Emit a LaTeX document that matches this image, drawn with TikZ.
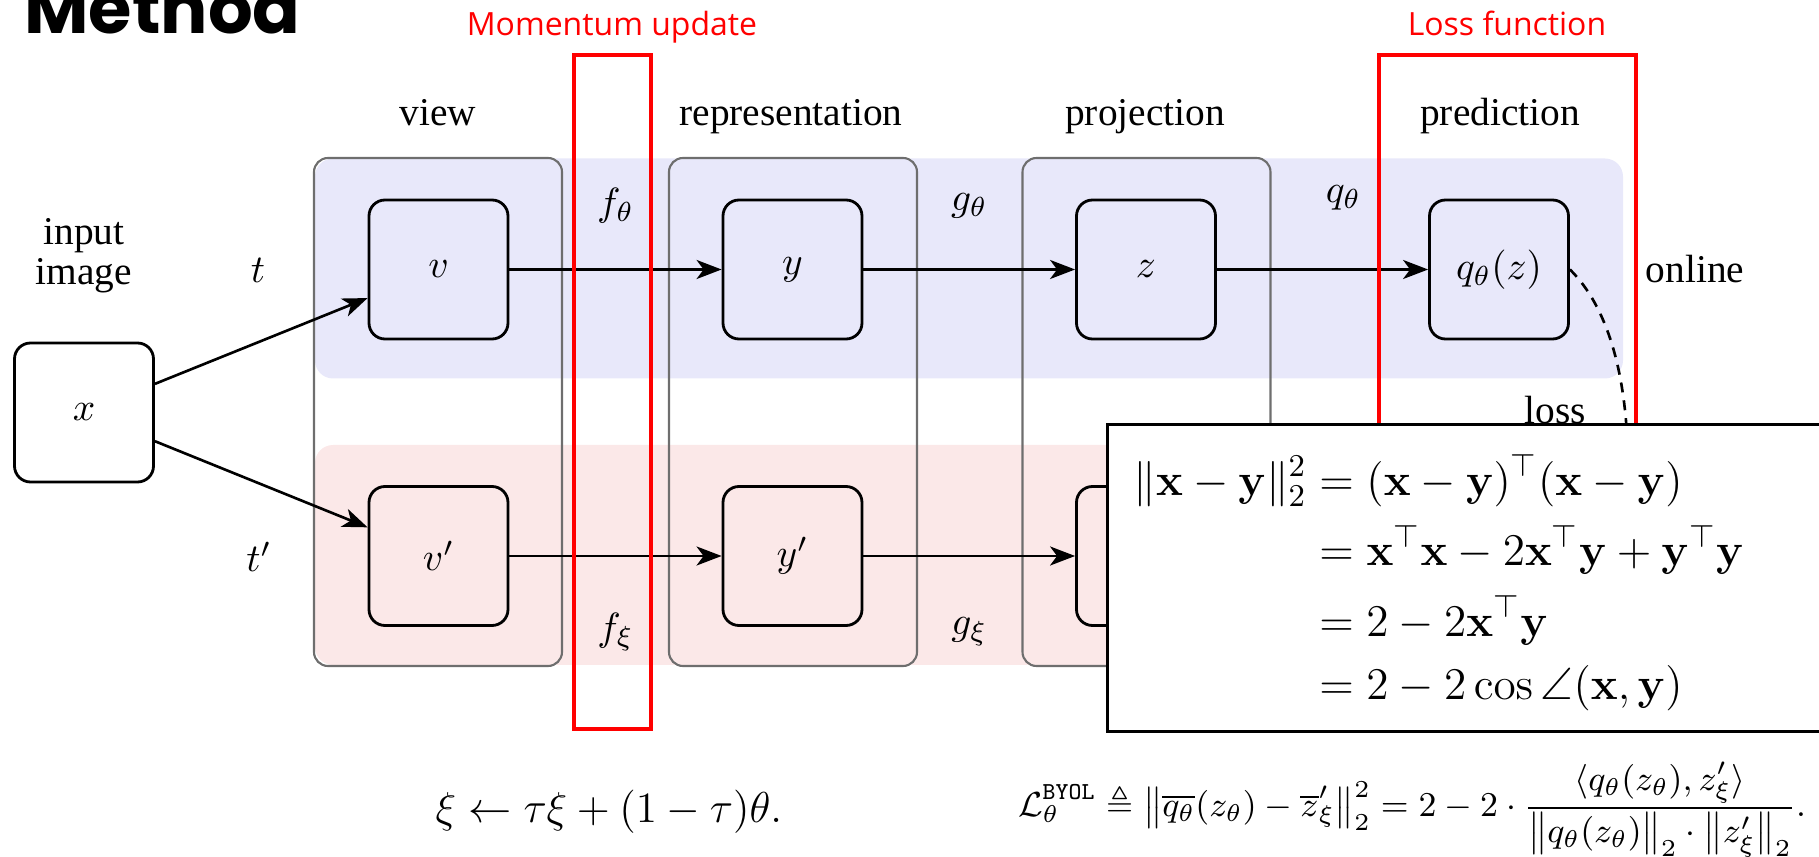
\RequirePackage{fix-cm}
\documentclass[tikz,border=0pt]{standalone}
\usepackage{amsmath,amssymb}
\usepackage[no-math]{fontspec}
\setmainfont{Liberation Serif}
\newfontfamily\notefont{Open Sans}
\newfontfamily\headfont{Poppins}
\usetikzlibrary{arrows.meta}
\definecolor{onlinefill}{HTML}{E8E8FA}
\definecolor{targetfill}{HTML}{FBE8E8}
\definecolor{markred}{HTML}{FF0000}
\definecolor{colline}{HTML}{6E6E6E}
\newcommand{\vx}{\mathbf{x}}
\newcommand{\vy}{\mathbf{y}}

\begin{document}
\begin{tikzpicture}[x=0.1mm,y=-0.1mm,font=\fontsize{11.2}{11.4}\selectfont,
  band/.style={rounded corners=1.8mm,minimum width=130.8mm,minimum height=22mm,inner sep=0pt},
  col/.style={draw=colline,line width=0.6pt,rounded corners=1.4mm,minimum width=24.8mm,
              minimum height=50.8mm,inner sep=0pt},
  cell/.style={draw=black,line width=0.8pt,rounded corners=1.6mm,minimum size=13.9mm,inner sep=0pt},
  hl/.style={draw=markred,line width=1.2pt,minimum height=67.4mm,inner sep=0pt},
  note/.style={font=\notefont\fontsize{9.1}{11}\selectfont,text=markred,anchor=base},
  colhead/.style={anchor=base},
  arr/.style={-{Stealth[length=2.5mm,width=1.9mm,inset=0.7mm]},line width=0.75pt},
  lossline/.style={dash pattern=on 1mm off 0.8mm,line width=0.75pt},
  panel/.style={draw=black,line width=0.8pt,fill=white,anchor=north west,inner sep=0pt}]
\useasboundingbox (0,0) rectangle (1819,857);

% online / target rows and the three stage columns
\node[band,fill=onlinefill] (online) at (969,268.5) {};
\node[band,fill=targetfill] (target) at (969,555) {};
\node[col] (cview) at (438,412) {};
\node[col] (crep)  at (793,412) {};
\node[col] (cproj) at (1146.5,412) {};

\node[colhead] (hview) at (438,126)  {view};
\node[colhead] (hrep)  at (791,126)  {representation};
\node[colhead] (hproj) at (1145,126) {projection};
\node[colhead] (hpred) at (1500,126) {prediction};

\node[cell] (img) at (84,412.5)    {$x$};
\node[cell] (on1) at (438.5,269.5) {$v$};
\node[cell] (on2) at (792.5,269.5) {$y$};
\node[cell] (on3) at (1146,269.5)  {$z$};
\node[cell] (on4) at (1499,269.5)  {$q_\theta(z)$};
\node[cell] (tg1) at (438.5,556)   {$v'$};
\node[cell] (tg2) at (792.5,556)   {$y'$};
\node[cell] (tg3) at (1146,556)    {$z'$};

\node[align=center] (limg) at (84,256) {input\\image};
\node (lt)  at (258,270) {$t$};
\node (ltp) at (259,557) {$t'$};
\node[colhead] (lon)   at (1695,283) {online};
\node[colhead] (lloss) at (1555,424) {loss};

\draw[arr] (img) -- (on1);
\draw[arr] (img) -- (tg1);
\draw[arr] (on1) -- node[yshift=6.4mm]{$f_\theta$} (on2);
\draw[arr] (on2) -- node[yshift=6.4mm]{$g_\theta$} (on3);
\draw[arr] (on3) -- node[yshift=7.2mm,xshift=2.1mm]{$q_\theta$} (on4);
\draw[arr] (tg1) -- node[yshift=-7.6mm]{$f_\xi$} (tg2);
\draw[arr] (tg2) -- node[yshift=-7.6mm]{$g_\xi$} (tg3);
\coordinate (lossend) at (1628,470);
\draw[lossline] (on4.east) .. controls +(31,30.5) and +(0,-110) .. (lossend);

% annotations
\node[hl,minimum width=7.7mm]  (mombox)  at (612.5,392) {};
\node[hl,minimum width=25.7mm] (lossbox) at (1507.5,392) {};
\node[note] (momtxt)  at (612,36)  {Momentum update};
\node[note] (losstxt) at (1507,36) {Loss function};
\node[anchor=base west,font=\headfont\bfseries\fontsize{20}{24}\selectfont] (title) at (12,34) {Method};

\node[panel,minimum width=72.5mm,minimum height=30.7mm] (eqbox) at (1106,423) {};
\node[anchor=west,font=\fontsize{12.9}{15}\selectfont] (eqs) at (1121,585)
  {$\begin{aligned}
    \|\vx-\vy\|_2^2 &= (\vx-\vy)^\top(\vx-\vy)\\
                    &= \vx^\top\vx - 2\vx^\top\vy + \vy^\top\vy\\
                    &= 2 - 2\vx^\top\vy\\
                    &= 2 - 2\cos\angle(\vx,\vy)
  \end{aligned}$};

\node[font=\fontsize{12.3}{14}\selectfont] (momeq) at (609,812)
  {$\xi \leftarrow \tau\xi + (1-\tau)\theta.$};
\node[font=\fontsize{9.9}{12}\selectfont] (losseq) at (1412,810)
  {$\displaystyle \mathcal{L}_\theta^{\mathtt{BYOL}} \triangleq \bigl\|\overline{q_\theta}(z_\theta) - \overline{z}'_\xi\bigr\|_2^2
   = 2 - 2\cdot\frac{\langle q_\theta(z_\theta), z'_\xi\rangle}{\bigl\|q_\theta(z_\theta)\bigr\|_2\cdot\bigl\|z'_\xi\bigr\|_2}.$};
\end{tikzpicture}
\end{document}
